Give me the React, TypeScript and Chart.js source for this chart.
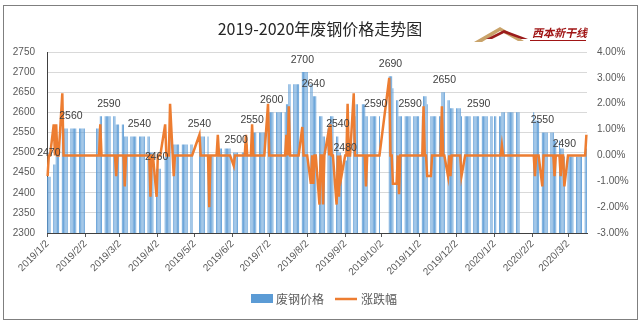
import React, { useEffect, useRef } from 'react';
import { Chart, registerables } from 'chart.js';

Chart.register(...registerables);

// ---------------- data ----------------
const START_DATE = '2019/1/2';
const END_DATE = '2020/3/17';

// weekdays without quotes (holidays)
const holidays = [
  '2019/2/4', '2019/2/5', '2019/2/6', '2019/2/7', '2019/2/8',
  '2019/4/5', '2019/5/1', '2019/5/2', '2019/5/3', '2019/6/7', '2019/9/13',
  '2019/10/1', '2019/10/2', '2019/10/3', '2019/10/4', '2019/10/7',
  '2020/1/1', '2020/1/23', '2020/1/24', '2020/1/27', '2020/1/28', '2020/1/29',
  '2020/1/30', '2020/1/31',
];

// price (废钢价格): date from which each price level holds
const priceDates = [
  '2019/1/2', '2019/1/7', '2019/1/9', '2019/1/14', '2019/2/14', '2019/2/27',
  '2019/3/6', '2019/3/27', '2019/4/1', '2019/4/8', '2019/4/12', '2019/4/15',
  '2019/5/6', '2019/5/14', '2019/5/21', '2019/6/3', '2019/6/13', '2019/6/18',
  '2019/7/1', '2019/7/16', '2019/7/18', '2019/7/29', '2019/8/5', '2019/8/7',
  '2019/8/12', '2019/8/15', '2019/8/19', '2019/8/21', '2019/8/26', '2019/8/28',
  '2019/8/30', '2019/9/4', '2019/9/9', '2019/9/11', '2019/9/19', '2019/10/8',
  '2019/10/11', '2019/10/14', '2019/10/16', '2019/11/5', '2019/11/8', '2019/11/11',
  '2019/11/20', '2019/11/25', '2019/11/27', '2019/12/6', '2020/1/8', '2020/2/4',
  '2020/2/10', '2020/2/20', '2020/2/25', '2020/2/28', '2020/3/17',
];
const priceValues = [
  2440, 2470, 2500, 2560, 2590, 2570,
  2540, 2500, 2460, 2490, 2540, 2520,
  2540, 2490, 2510, 2500, 2520, 2550,
  2600, 2620, 2670, 2700, 2670, 2640,
  2590, 2540, 2560, 2590, 2540, 2500,
  2480, 2530, 2590, 2620, 2590, 2690,
  2660, 2630, 2590, 2640, 2620, 2590,
  2650, 2630, 2610, 2590, 2600, 2580,
  2550, 2530, 2510, 2490, 2510,
];

// change (涨跌幅, %) on the days it is not zero
const pctDates = [
  '2019/1/2', '2019/1/7', '2019/1/9', '2019/1/14', '2019/2/14', '2019/2/27',
  '2019/3/6', '2019/3/27', '2019/4/1', '2019/4/8', '2019/4/12', '2019/4/15',
  '2019/5/6', '2019/5/14', '2019/5/21', '2019/6/3', '2019/6/13', '2019/6/18',
  '2019/7/1', '2019/7/16', '2019/7/18', '2019/7/29', '2019/8/5', '2019/8/7',
  '2019/8/12', '2019/8/15', '2019/8/19', '2019/8/21', '2019/8/26', '2019/8/28',
  '2019/8/30', '2019/9/4', '2019/9/9', '2019/9/19', '2019/10/8',
  '2019/10/11', '2019/10/14', '2019/10/16', '2019/11/5', '2019/11/8', '2019/11/11',
  '2019/11/20', '2019/11/25', '2019/11/27', '2019/12/6', '2020/1/8', '2020/2/4',
  '2020/2/10', '2020/2/20', '2020/2/25', '2020/2/28', '2020/3/17',
];
const pctValues = [
  -0.8, 1.2, 1.2, 2.4, 1.2, -0.8,
  -1.2, -1.6, -1.6, 1.2, 2.0, -0.8,
  0.8, -2.0, 0.8, -0.4, 0.8, 1.2,
  2.0, 0.8, 1.9, 1.1, -1.1, -1.1,
  -1.9, -1.9, 0.8, 1.2, -1.9, -1.6,
  -0.8, 2.0, 2.4, -1.2, 3.0,
  -1.1, -1.1, -1.5, 1.9, -0.8, -0.8,
  1.9, -0.8, -0.8, -0.8, 0.4, -0.8,
  -1.2, -0.8, -0.8, -1.2, 0.8,
];

// data labels shown on the price bars
const labelDates = [
  '2019/1/3', '2019/1/21', '2019/2/21', '2019/3/18', '2019/4/1', '2019/5/6',
  '2019/6/5', '2019/6/18', '2019/7/4', '2019/7/29', '2019/8/7', '2019/8/27',
  '2019/9/2', '2019/9/27', '2019/10/9', '2019/10/25', '2019/11/22', '2019/12/20',
  '2020/2/10', '2020/2/28',
];
const labelValues = [
  2470, 2560, 2590, 2540, 2460, 2540,
  2500, 2550, 2600, 2700, 2640, 2540,
  2480, 2590, 2690, 2590, 2650, 2590,
  2550, 2490,
];

const TITLE = '2019-2020年废钢价格走势图';
const SERIES_PRICE = '废钢价格';
const SERIES_PCT = '涨跌幅';
const LOGO_TEXT = '西本新干线';

const PRICE_MIN = 2300;
const PRICE_MAX = 2750;
const PRICE_STEP = 50;
const PCT_MIN = -3;
const PCT_MAX = 4;
const PCT_STEP = 1;

// ---------------- helpers ----------------
function parseDate(s: string) {
  const [y, m, d] = s.split('/').map(Number);
  return new Date(y, m - 1, d);
}
function fmtDate(dt: Date) {
  return `${dt.getFullYear()}/${dt.getMonth() + 1}/${dt.getDate()}`;
}

const days: string[] = [];
{
  const end = parseDate(END_DATE);
  let t = parseDate(START_DATE);
  while (t <= end) {
    days.push(fmtDate(t));
    t = new Date(t.getFullYear(), t.getMonth(), t.getDate() + 1);
  }
}
const isTrading = days.map((s) => {
  const dow = parseDate(s).getDay();
  return dow !== 0 && dow !== 6 && !holidays.includes(s);
});
const isMonthTick = days.map((s) => parseDate(s).getDate() === 2);

const barData: (number | null)[] = [];
{
  let cur: number | null = null;
  days.forEach((s, i) => {
    const k = priceDates.indexOf(s);
    if (k >= 0) cur = priceValues[k];
    barData.push(isTrading[i] ? cur : null);
  });
}
const lineData: (number | null)[] = days.map((s, i) => {
  if (!isTrading[i]) return null;
  const k = pctDates.indexOf(s);
  return k >= 0 ? pctValues[k] : 0;
});

const BLUE = '#5B9BD5';
const ORANGE = '#ED7D31';
const FONT = '"Liberation Sans", "Noto Sans CJK SC", sans-serif';
const CJK = '"Noto Sans CJK SC", "Liberation Sans", sans-serif';

const decorPlugin = {
  id: 'decor',
  afterDraw(chart: any) {
    const ctx = chart.ctx as CanvasRenderingContext2D;
    const xs = chart.scales.x;
    const ys = chart.scales.y;
    ctx.save();
    // data labels
    ctx.fillStyle = '#404040';
    ctx.font = `10.5px ${FONT}`;
    ctx.textAlign = 'center';
    ctx.textBaseline = 'middle';
    labelDates.forEach((d, i) => {
      const idx = days.indexOf(d);
      if (idx < 0) return;
      const x = xs.getPixelForValue(idx);
      const y = ys.getPixelForValue(labelValues[i]) - 12;
      ctx.fillText(String(labelValues[i]), x, y);
    });
    // title
    ctx.fillStyle = '#262626';
    ctx.font = `16px ${CJK}`;
    ctx.fillText(TITLE, 320, 29);
    // legend
    ctx.font = `12px ${CJK}`;
    ctx.textAlign = 'left';
    ctx.fillStyle = BLUE;
    ctx.fillRect(251, 294, 22, 9);
    ctx.fillStyle = '#595959';
    ctx.fillText(SERIES_PRICE, 276, 299);
    ctx.strokeStyle = ORANGE;
    ctx.lineWidth = 2.5;
    ctx.beginPath();
    ctx.moveTo(335, 299);
    ctx.lineTo(357, 299);
    ctx.stroke();
    ctx.fillText(SERIES_PCT, 361, 299);
    // logo
    ctx.fillStyle = '#c9a36a';
    ctx.beginPath();
    ctx.moveTo(474, 42);
    ctx.lineTo(500, 27);
    ctx.lineTo(524, 41);
    ctx.lineTo(518, 41);
    ctx.lineTo(500, 31);
    ctx.lineTo(482, 42);
    ctx.closePath();
    ctx.fill();
    ctx.fillStyle = '#9b1c1c';
    ctx.beginPath();
    ctx.moveTo(486, 39);
    ctx.lineTo(504, 30);
    ctx.lineTo(528, 39);
    ctx.lineTo(521, 39);
    ctx.lineTo(504, 33);
    ctx.lineTo(492, 39);
    ctx.closePath();
    ctx.fill();
    ctx.fillStyle = '#a01515';
    ctx.font = `italic bold 11px ${CJK}`;
    ctx.fillText(LOGO_TEXT, 532, 33);
    ctx.strokeStyle = '#a01515';
    ctx.lineWidth = 1;
    ctx.beginPath();
    ctx.moveTo(530, 40.5);
    ctx.lineTo(586, 40.5);
    ctx.stroke();
    // outer border
    ctx.strokeStyle = '#7f7f7f';
    ctx.lineWidth = 1;
    ctx.strokeRect(3.5, 5.5, 634, 314);
    ctx.restore();
  },
};

export default function App() {
  const ref = useRef<HTMLCanvasElement | null>(null);
  useEffect(() => {
    if (!ref.current) return;
    const chart = new Chart(ref.current, {
      type: 'bar',
      data: {
        labels: days,
        datasets: [
          {
            type: 'line',
            label: SERIES_PCT,
            data: lineData,
            yAxisID: 'y1',
            borderColor: ORANGE,
            backgroundColor: ORANGE,
            borderWidth: 2.5,
            pointRadius: 0,
            tension: 0,
            spanGaps: true,
            order: 0,
          } as any,
          {
            type: 'bar',
            label: SERIES_PRICE,
            data: barData,
            yAxisID: 'y',
            backgroundColor: BLUE,
            borderWidth: 0,
            barPercentage: 0.72,
            categoryPercentage: 1,
            order: 1,
          } as any,
        ],
      },
      options: {
        responsive: false,
        animation: false,
        layout: { padding: { top: 52, bottom: 33, left: 0, right: 0 } },
        plugins: {
          legend: { display: false },
          title: { display: false },
          tooltip: { enabled: false },
        },
        scales: {
          x: {
            type: 'category',
            offset: true,
            grid: {
              offset: false,
              drawOnChartArea: false,
              drawTicks: true,
              tickLength: 4,
              color: (c: any) => (isMonthTick[c.index] ? '#595959' : 'rgba(0,0,0,0)'),
            },
            border: { display: true, color: '#404040' },
            ticks: {
              autoSkip: false,
              maxRotation: 45,
              minRotation: 45,
              padding: 1,
              color: '#595959',
              font: { size: 10, family: FONT },
              callback: (_v: any, i: number) => (isMonthTick[i] ? days[i] : ''),
            },
            afterFit: (s: any) => {
              s.height = 60;
            },
          },
          y: {
            position: 'left',
            min: PRICE_MIN,
            max: PRICE_MAX,
            ticks: {
              stepSize: PRICE_STEP,
              padding: 12,
              color: '#595959',
              font: { size: 10, family: FONT },
              callback: (v: any) => String(v),
            },
            grid: { color: '#d9d9d9', drawTicks: false },
            border: { display: true, color: '#404040' },
            afterFit: (s: any) => {
              s.width = 47;
            },
          },
          y1: {
            position: 'right',
            min: PCT_MIN,
            max: PCT_MAX,
            ticks: {
              stepSize: PCT_STEP,
              padding: 10,
              color: '#595959',
              font: { size: 10, family: FONT },
              callback: (v: any) => Number(v).toFixed(2) + '%',
            },
            grid: { display: false, drawTicks: false },
            border: { display: false },
            afterFit: (s: any) => {
              s.width = 54;
            },
          },
        },
      } as any,
      plugins: [decorPlugin],
    });
    return () => chart.destroy();
  }, []);
  return (
    <div style={{ position: 'absolute', left: 0, top: 0, width: 641, height: 326, background: '#fff' }}>
      <canvas ref={ref} width={641} height={326} style={{ display: 'block' }} />
    </div>
  );
}
